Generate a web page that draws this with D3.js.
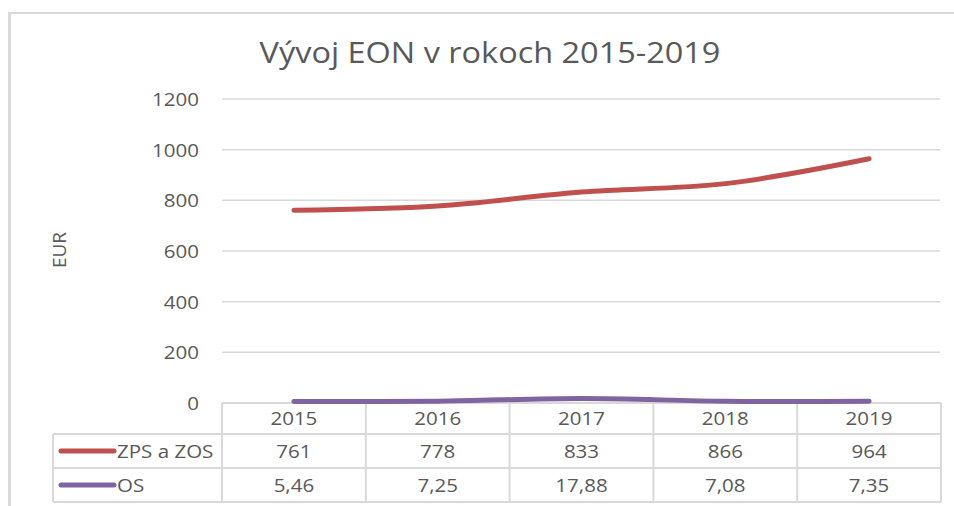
<!DOCTYPE html>
<html><head><meta charset="utf-8">
<script src="https://cdn.jsdelivr.net/npm/d3@7"></script>
<style>
html,body{margin:0;padding:0;background:#fff;}
text{font-family:"Open Sans",sans-serif;fill:#595959;}
</style></head>
<body><svg id="c" width="954" height="506"></svg>
<script>
const title = "Vývoj EON v rokoch 2015-2019";
const yAxisLabel = "EUR";
const years = ["2015","2016","2017","2018","2019"];
const seriesNames = ["ZPS a ZOS","OS"];
const zpsValues = [761, 778, 833, 866, 964];
const osValues = [5.46, 7.25, 17.88, 7.08, 7.35];
const zpsLabels = ["761","778","833","866","964"];
const osLabels = ["5,46","7,25","17,88","7,08","7,35"];
const yTicks = [0,200,400,600,800,1000,1200];
const colors = ["#c0504d","#8064a2"];

const svg = d3.select("#c");
const grid = "#d9d9d9";

function stretch(sel, f){
  sel.each(function(){
    const w = this.getComputedTextLength();
    d3.select(this).attr("textLength", w*f).attr("lengthAdjust","spacingAndGlyphs");
  });
}

// outer frame
svg.append("line").attr("x1",9.5).attr("x2",954).attr("y1",13).attr("y2",13).attr("stroke",grid).attr("stroke-width",2);
svg.append("line").attr("x1",9.5).attr("x2",9.5).attr("y1",12).attr("y2",506).attr("stroke",grid).attr("stroke-width",3);

const x = d3.scaleBand().domain(years).range([222,941]);
const y = d3.scaleLinear().domain([0,1200]).range([403,99]);
const cx = d => x(d) + x.bandwidth()/2;

// title
const tEl = svg.append("text").attr("x",490).attr("y",63).attr("text-anchor","middle")
  .attr("font-size",29.5).text(title);
stretch(tEl, 1.1);

// gridlines
svg.append("g").selectAll("line").data(yTicks.filter(d=>d>0)).join("line")
  .attr("x1",222).attr("x2",940).attr("y1",d=>y(d)).attr("y2",d=>y(d))
  .attr("stroke",grid).attr("stroke-width",1.5);

// y axis labels
const yAxis = d3.axisLeft(y).tickValues(yTicks).tickSize(0).tickPadding(0).tickFormat(d3.format("d"));
const ga = svg.append("g").attr("transform","translate(199,0)").call(yAxis);
ga.select(".domain").remove();
ga.selectAll("text").attr("font-size",19).attr("font-family","Open Sans, sans-serif").attr("fill","#595959").attr("dy","0.34em");
stretch(ga.selectAll("text"), 1.08);

// y axis title
svg.append("text").attr("transform","translate(66,250) rotate(-90)").attr("text-anchor","middle")
  .attr("font-size",19).text(yAxisLabel);

// table
const tb = svg.append("g").attr("stroke",grid).attr("stroke-width",2).attr("fill","none");
const rowY = [403,434,468,502];
tb.append("line").attr("x1",222).attr("x2",941).attr("y1",rowY[0]).attr("y2",rowY[0]);
[1,2,3].forEach(i=>tb.append("line").attr("x1",53).attr("x2",941).attr("y1",rowY[i]).attr("y2",rowY[i]));
tb.append("line").attr("x1",53).attr("x2",53).attr("y1",rowY[1]).attr("y2",rowY[3]);
years.forEach(yr=>tb.append("line").attr("x1",x(yr)).attr("x2",x(yr)).attr("y1",rowY[0]).attr("y2",rowY[3]));
tb.append("line").attr("x1",941).attr("x2",941).attr("y1",rowY[0]).attr("y2",rowY[3]);

const tt = svg.append("g").attr("font-size",19).attr("text-anchor","middle");
tt.selectAll(".h").data(years).join("text").attr("x",cx).attr("y",(rowY[0]+rowY[1])/2).attr("dy","0.36em").text(d=>d);
tt.selectAll(".r1").data(zpsLabels).join("text").attr("x",(d,i)=>cx(years[i])).attr("y",(rowY[1]+rowY[2])/2).attr("dy","0.36em").text(d=>d);
tt.selectAll(".r2").data(osLabels).join("text").attr("x",(d,i)=>cx(years[i])).attr("y",(rowY[2]+rowY[3])/2).attr("dy","0.36em").text(d=>d);
stretch(tt.selectAll("text"), 1.08);

// legend keys in table
seriesNames.forEach((n,i)=>{
  const ym = (rowY[i+1]+rowY[i+2])/2;
  svg.append("line").attr("x1",61).attr("x2",114).attr("y1",ym).attr("y2",ym)
    .attr("stroke",colors[i]).attr("stroke-width",5).attr("stroke-linecap","round");
  const lt = svg.append("text").attr("x",117).attr("y",ym).attr("dy","0.36em").attr("font-size",19).text(n);
  stretch(lt, 1.08);
});

// lines
const line = d3.line().x((d,i)=>cx(years[i])).y(d=>y(d)).curve(d3.curveCatmullRom.alpha(0));
[zpsValues, osValues].forEach((vals,i)=>{
  svg.append("path").datum(vals).attr("d",line).attr("fill","none")
    .attr("stroke",colors[i]).attr("stroke-width",5).attr("stroke-linecap","round").attr("stroke-linejoin","round");
});
</script></body></html>
